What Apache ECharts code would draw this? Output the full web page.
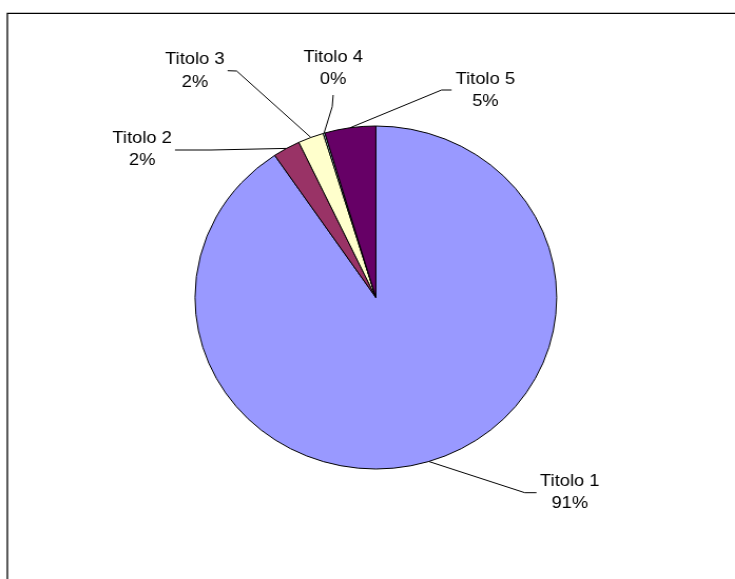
<!DOCTYPE html>
<html>
<head>
<meta charset="utf-8">
<script src="https://cdn.jsdelivr.net/npm/echarts@6/dist/echarts.min.js"></script>
<style>
  html, body { margin: 0; padding: 0; background: #fff; overflow: hidden; }
  #wrap { width: 735px; height: 579px; overflow: hidden; position: relative; }
  #chart { width: 697px; height: 579px; transform: scaleX(1.0546); transform-origin: 0 0; }
</style>
</head>
<body>
<div id="wrap"><div id="chart"></div></div>
<script>
// ---- data ----
const categories = ['Titolo 1', 'Titolo 2', 'Titolo 3', 'Titolo 4', 'Titolo 5'];
const values = [90.55, 2.45, 2.3, 0.15, 4.55];

// ---- styles / layout ----
const colors = ['#9999ff', '#993366', '#ffffcc', '#ccffff', '#660066'];
// label centre and leader-line bend/end points (chart pixel space, before horizontal stretch)
const labelSpec = [
  { x: 540.3, y: 492, bend: [497.6, 492.7], end: [508.7, 492.7] },
  { x: 134.8, y: 149, bend: [200, 150], end: [165.9, 150] },
  { x: 184.8, y: 70.5, bend: [224.4, 71], end: [215.8, 70.7] },
  { x: 315.9, y: 68.3, bend: [315, 106.7], end: [315.9, 95] },
  { x: 460.2, y: 90, bend: [418.7, 90], end: [428.2, 90] }
];

const chart = echarts.init(document.getElementById('chart'), null, { renderer: 'canvas' });
chart.setOption({
  animation: false,
  graphic: [{
    type: 'rect',
    silent: true,
    shape: { x: 6.95, y: 13.3, width: 900, height: 900 },
    style: { fill: 'none', stroke: '#000', lineWidth: 1.3 }
  }],
  series: [{
    type: 'pie',
    center: [356.4, 297.5],
    radius: 171.5,
    startAngle: 90,
    clockwise: true,
    percentPrecision: 0,
    avoidLabelOverlap: false,
    minShowLabelAngle: 0,
    data: categories.map((n, i) => ({ name: n, value: values[i], itemStyle: { color: colors[i] } })),
    itemStyle: { borderColor: '#000', borderWidth: 1 },
    emphasis: { disabled: true },
    label: {
      show: true,
      position: 'outside',
      formatter: '{b}\n{d}%',
      color: '#000',
      fontFamily: '"Liberation Sans", Arial, sans-serif',
      fontSize: 17.4,
      lineHeight: 22.5
    },
    labelLine: {
      show: true,
      length: 20,
      length2: 10,
      smooth: false,
      lineStyle: { color: '#000', width: 1 }
    },
    labelLayout: function (params) {
      const s = labelSpec[params.dataIndex];
      const pts = params.labelLinePoints;
      const p0 = pts ? pts[0] : s.bend;
      return {
        x: s.x,
        y: s.y,
        align: 'center',
        verticalAlign: 'middle',
        labelLinePoints: [p0, s.bend, s.end]
      };
    }
  }]
});
</script>
</body>
</html>
